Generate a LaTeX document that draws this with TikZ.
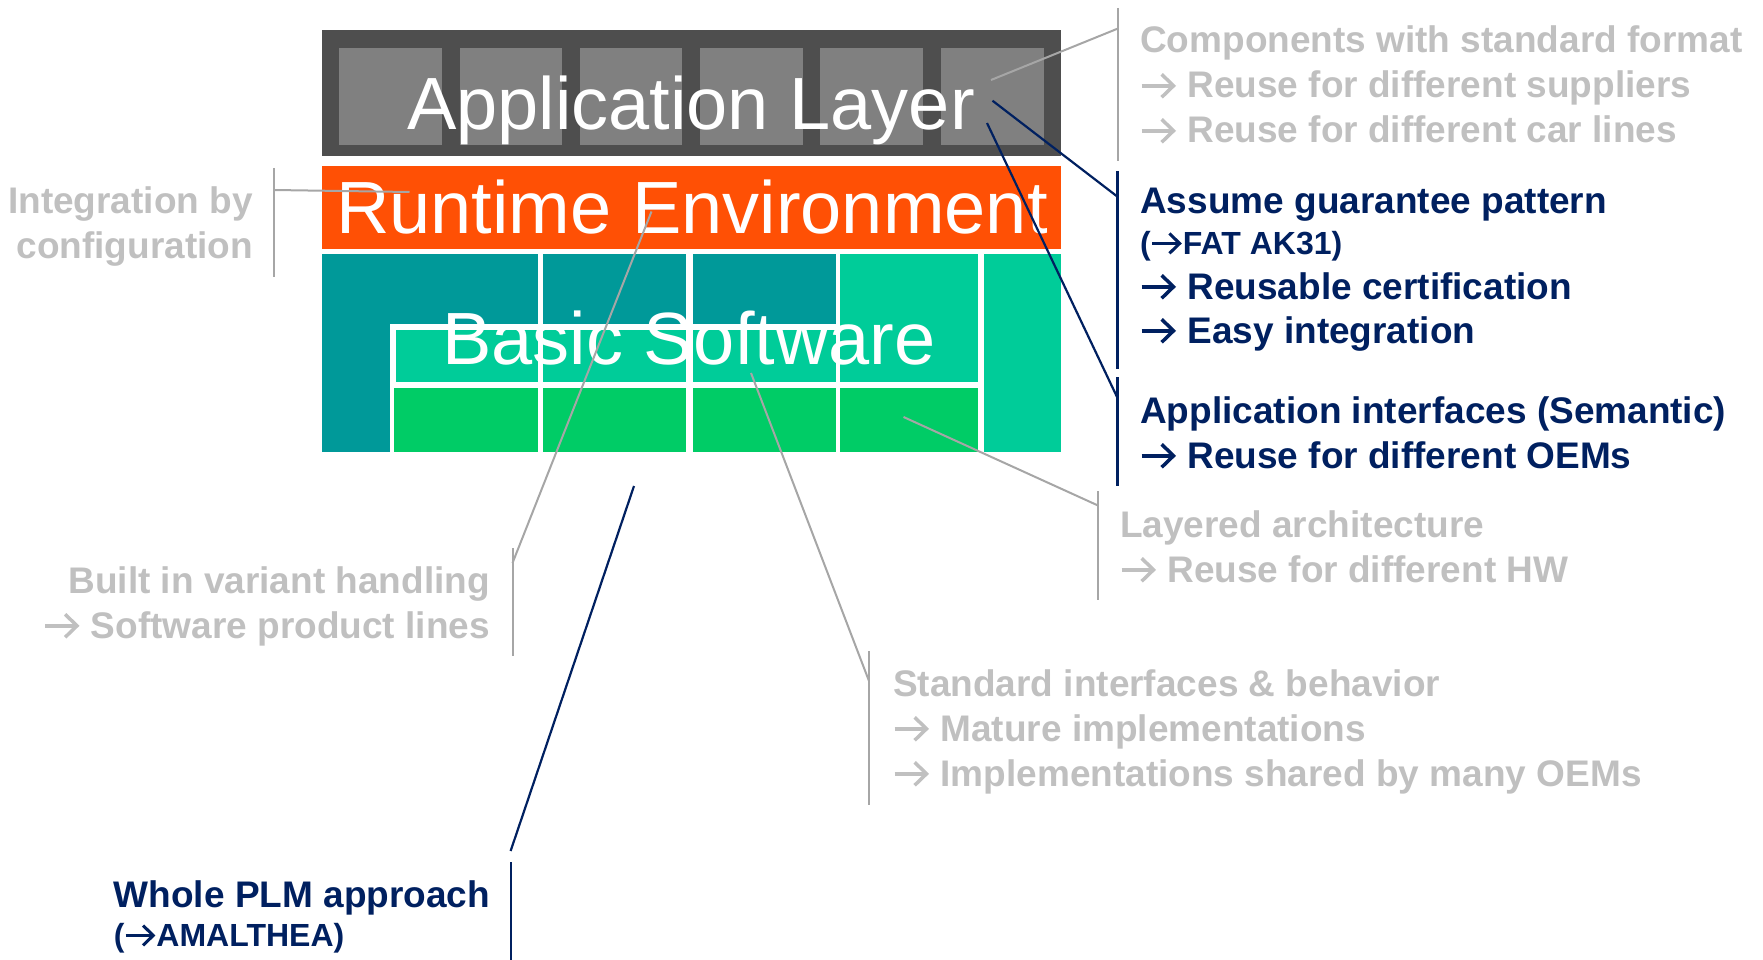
\documentclass[tikz,border=0pt]{standalone}
\usepackage{fontspec}
\setmainfont{Liberation Sans}
\definecolor{appdark}{RGB}{78,78,78}
\definecolor{applight}{RGB}{128,128,128}
\definecolor{rteorange}{RGB}{255,80,5}
\definecolor{tealdark}{RGB}{0,153,153}
\definecolor{teallight}{RGB}{0,204,153}
\definecolor{bswgreen}{RGB}{0,204,102}
\definecolor{txtgray}{RGB}{192,192,192}
\definecolor{lngray}{RGB}{166,166,166}
\definecolor{navy}{RGB}{0,32,96}
\newcommand\layerfont{\fontsize{74}{80}\selectfont}
\newcommand\calfont{\fontsize{37}{45}\selectfont\bfseries}
\newcommand\calsmall{\fontsize{32}{38}\selectfont\bfseries}
\newcommand\rarr{\makebox[1em][l]{\tikz[baseline=0pt,x=1em,y=1em,line width=0.095em]{%
  \path[use as bounding box] (0,0) rectangle (1,0.7);
  \draw[line cap=butt] (0.04,0.33) -- (0.88,0.33);
  \draw[line join=miter,line cap=butt] (0.58,0.64) -- (0.9,0.33) -- (0.58,0.02);}}}
\begin{document}
\begin{tikzpicture}[x=1pt,y=-1pt,
  layertext/.style={font=\layerfont, text=white, inner sep=0, anchor=base},
  gtxt/.style={font=\calfont, text=txtgray, inner sep=0, anchor=base west},
  gtxtr/.style={font=\calfont, text=txtgray, inner sep=0, anchor=base east},
  ntxt/.style={font=\calfont, text=navy, inner sep=0, anchor=base west},
  ntxts/.style={font=\calsmall, text=navy, inner sep=0, anchor=base west},
  grline/.style={draw=lngray, line width=2},
  nvline/.style={draw=navy, line width=2.2}]
\useasboundingbox (0,0) rectangle (1763,960);

% Application layer
\fill[appdark] (322,30) rectangle (1061,156);
\foreach \a/\b in {339/442,460/562,580/682,700/803,820/923,941/1044}
  \fill[applight] (\a,48) rectangle (\b,145);
\node[layertext] (app) at (691,130) {Application Layer};

% Runtime environment
\fill[rteorange] (322,166) rectangle (1061,249);
\node[layertext] (rte) at (692,233.5) {Runtime Environment};

% Basic software
\fill[tealdark] (322,254) rectangle (538,324);
\fill[tealdark] (322,254) rectangle (390,452);
\fill[tealdark] (543,254) rectangle (686,324);
\fill[tealdark] (693,254) rectangle (836,324);
\fill[teallight] (840,254) rectangle (977.5,381.5);
\fill[teallight] (984,254) rectangle (1061,452);
\foreach \a/\b in {396/538,543/686,693/836}
  \fill[teallight] (\a,330) rectangle (\b,381.5);
\foreach \a/\b in {394/538,543/686,693/836,840/977.5}
  \fill[bswgreen] (\a,388) rectangle (\b,452);
\node[layertext] (bsw) at (689,364) {Basic Software};

% Right: components
\node[gtxt] (c1) at (1140,52.5) {Components with standard format};
\node[gtxt] (c2) at (1140,98) {\rarr{} Reuse for different suppliers};
\node[gtxt] (c3) at (1140,143) {\rarr{} Reuse for different car lines};
% Right: assume guarantee
\node[ntxt] (a1) at (1140,214) {Assume guarantee pattern};
\node[ntxts] (a2) at (1140,254) {(\rarr{}FAT AK31)};
\node[ntxt] (a3) at (1140,299) {\rarr{} Reusable certification};
\node[ntxt] (a4) at (1140,343) {\rarr{} Easy integration};
% Right: application interfaces
\node[ntxt] (i1) at (1140,423) {Application interfaces (Semantic)};
\node[ntxt] (i2) at (1140,468) {\rarr{} Reuse for different OEMs};
% Layered
\node[gtxt] (l1) at (1120,537) {Layered architecture};
\node[gtxt] (l2) at (1120,582) {\rarr{} Reuse for different HW};
% Standard interfaces
\node[gtxt] (s1) at (893,696) {Standard interfaces \& behavior};
\node[gtxt] (s2) at (893,741) {\rarr{} Mature implementations};
\node[gtxt] (s3) at (893,786) {\rarr{} Implementations shared by many OEMs};
% Left: integration
\node[gtxtr] (g1) at (253,214) {Integration by};
\node[gtxtr] (g2) at (253,258) {configuration};
% Left: variant
\node[gtxtr] (v1) at (490,593) {Built in variant handling};
\node[gtxtr] (v2) at (490,638) {\rarr{} Software product lines};
% PLM
\node[ntxt] (w1) at (113.6,907) {Whole PLM approach};
\node[ntxts] (w2) at (113.6,946) {(\rarr{}AMALTHEA)};

% bars
\coordinate (bc1) at (1118,8);    \coordinate (bc2) at (1118,161);
\coordinate (ba1) at (1117.5,171); \coordinate (ba2) at (1117.5,369);
\coordinate (bi1) at (1117.5,377); \coordinate (bi2) at (1117.5,486);
\coordinate (bl1) at (1098,491);  \coordinate (bl2) at (1098,600);
\coordinate (bs1) at (869,651);   \coordinate (bs2) at (869,805);
\coordinate (bg1) at (274,168);   \coordinate (bg2) at (274,277);
\coordinate (bv1) at (512.5,548); \coordinate (bv2) at (512.5,656);
\coordinate (bw1) at (510.6,862); \coordinate (bw2) at (510.6,960);
\draw[grline] (bc1) -- (bc2);
\draw[nvline] (ba1) -- (ba2);
\draw[nvline] (bi1) -- (bi2);
\draw[grline] (bl1) -- (bl2);
\draw[grline] (bs1) -- (bs2);
\draw[grline] (bg1) -- (bg2);
\draw[grline] (bv1) -- (bv2);
\draw[nvline] (bw1) -- (bw2);

% leaders
\coordinate (pc) at (991,80);     \coordinate (qc) at (1118,28.5);
\coordinate (pa) at (992.5,100.7); \coordinate (qa) at (1117.5,196.7);
\coordinate (pi) at (987,123);    \coordinate (qi) at (1117.5,398);
\coordinate (pl) at (903.5,417);  \coordinate (ql) at (1098,505.5);
\coordinate (ps) at (751,373);    \coordinate (qs) at (869,681);
\coordinate (pg) at (409.5,192);  \coordinate (qg) at (274,190);
\coordinate (pv) at (651.5,211.5); \coordinate (qv) at (512.5,563);
\coordinate (pw) at (634,486);    \coordinate (qw) at (510.6,851);
\draw[grline] (pc) -- (qc);
\draw[nvline] (pa) -- (qa);
\draw[nvline] (pi) -- (qi);
\draw[grline] (pl) -- (ql);
\draw[grline] (ps) -- (qs);
\draw[grline] (pg) -- (qg);
\draw[grline] (pv) -- (qv);
\draw[nvline] (pw) -- (qw);
\end{tikzpicture}
\end{document}
